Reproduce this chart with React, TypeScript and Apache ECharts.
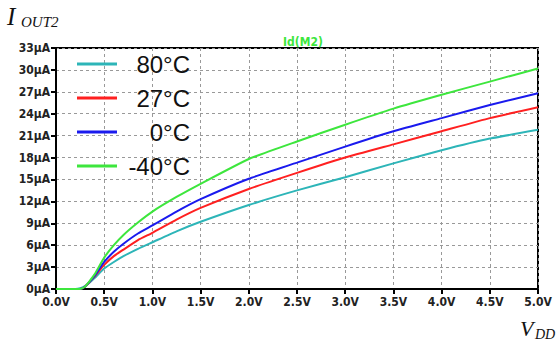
import React, { useEffect, useRef } from "react";
import * as echarts from "echarts";

const vdd = [0, 0.1, 0.2, 0.25, 0.3, 0.35, 0.4, 0.5, 0.6, 0.7, 0.85, 1.0, 1.25, 1.5, 2.0, 2.5, 3.0, 3.5, 4.0, 4.5, 5.0];
const seriesNames = ["80°C", "27°C", "0°C", "-40°C"];
const seriesColors = ["#2db5b8", "#ff2020", "#1a1aee", "#3de63d"];
const i80 = [0, 0, 0.0, 0.1, 0.4, 0.9, 1.5, 2.8, 3.7, 4.5, 5.5, 6.4, 7.9, 9.2, 11.5, 13.5, 15.3, 17.2, 19.0, 20.6, 21.8];
const i27 = [0, 0, 0, 0, 0.3, 1.0, 1.7, 3.3, 4.5, 5.4, 6.7, 7.7, 9.5, 11.1, 13.7, 15.9, 18.0, 19.8, 21.6, 23.4, 24.9];
const i0 = [0, 0, 0, 0, 0.3, 1.0, 1.8, 3.7, 5.1, 6.2, 7.6, 8.7, 10.6, 12.3, 15.1, 17.3, 19.5, 21.6, 23.4, 25.2, 26.8];
const im40 = [0, 0, 0, 0, 0.3, 1.1, 2.0, 4.3, 6.0, 7.4, 9.1, 10.6, 12.6, 14.4, 17.8, 20.2, 22.5, 24.7, 26.6, 28.4, 30.2];
const seriesValues = [i80, i27, i0, im40];
const chartTitle = "Id(M2)";
const xMin = 0, xMax = 5, xStep = 0.5;
const yMin = 0, yMax = 33, yStep = 3;

const labelFont = "'Liberation Sans Narrow', 'DejaVu Sans Condensed', 'Liberation Sans', sans-serif";

export default function App() {
  const ref = useRef<HTMLDivElement>(null);
  useEffect(() => {
    const chart = echarts.init(ref.current!, null, { renderer: "svg" });
    chart.setOption({
      animation: false,
      backgroundColor: "#ffffff",
      title: {
        text: chartTitle,
        left: 298,
        top: 31,
        textAlign: "center",
        textStyle: { color: "#3de63d", fontSize: 12, fontWeight: "bold", fontFamily: labelFont },
      },
      grid: {
        left: 56,
        right: 20,
        top: 48,
        bottom: 55,
        show: true,
        borderColor: "#000",
        borderWidth: 2,
        backgroundColor: "transparent",
      },
      legend: {
        orient: "vertical",
        left: 72,
        top: 47,
        itemWidth: 40,
        itemHeight: 3,
        itemGap: 10,
        icon: "rect",
        data: seriesNames,
        formatter: (name: string) => "{a|" + name + "}",
        textStyle: {
          color: "#111",
          rich: {
            a: { width: 68, align: "right", fontSize: 24, lineHeight: 23, fontFamily: "'Liberation Sans', Arial, sans-serif", color: "#111" },
          },
        },
      },
      xAxis: {
        type: "value",
        min: xMin,
        max: xMax,
        interval: xStep,
        axisLine: { show: true, lineStyle: { color: "#000", width: 2 } },
        axisTick: { show: true, length: 5, lineStyle: { color: "#000", width: 2 } },
        axisLabel: {
          margin: 7,
          formatter: (v: number) => v.toFixed(1) + "V",
          color: "#222",
          fontSize: 12,
          fontWeight: "bold",
          fontFamily: labelFont,
        },
        splitLine: { show: true, lineStyle: { color: "#999", width: 1, type: [3, 3] } },
      },
      yAxis: {
        type: "value",
        min: yMin,
        max: yMax,
        interval: yStep,
        axisLine: { show: true, lineStyle: { color: "#000", width: 2 } },
        axisTick: { show: true, length: 5, lineStyle: { color: "#000", width: 2 } },
        axisLabel: {
          margin: 6,
          formatter: (v: number) => v + "μA",
          color: "#222",
          fontSize: 12,
          fontWeight: "bold",
          fontFamily: labelFont,
        },
        splitLine: { show: true, lineStyle: { color: "#999", width: 1, type: [3, 3] } },
      },
      series: seriesNames.map((name, k) => ({
        name,
        type: "line",
        symbol: "none",
        smooth: 0.15,
        data: vdd.map((v, i) => [v, seriesValues[k][i]]),
        lineStyle: { color: seriesColors[k], width: 2 },
        itemStyle: { color: seriesColors[k] },
        z: 3 + k,
      })),
      graphic: [
        { type: "text", left: 7, top: 4, style: { text: "I", fontSize: 25, fontStyle: "italic", fontFamily: "'Liberation Serif', serif", fill: "#111" } },
        { type: "text", left: 21, top: 14, style: { text: "OUT2", fontSize: 15, fontStyle: "italic", fontFamily: "'Liberation Serif', serif", fill: "#111" } },
        { type: "text", left: 520, top: 317, style: { text: "V", fontSize: 22, fontStyle: "italic", fontFamily: "'Liberation Serif', serif", fill: "#111" } },
        { type: "text", left: 535, top: 327, style: { text: "DD", fontSize: 14, fontStyle: "italic", fontFamily: "'Liberation Serif', serif", fill: "#111" } },
      ],
    });
    return () => chart.dispose();
  }, []);
  return <div ref={ref} style={{ position: "fixed", left: 0, top: 0, width: 558, height: 344 }} />;
}
